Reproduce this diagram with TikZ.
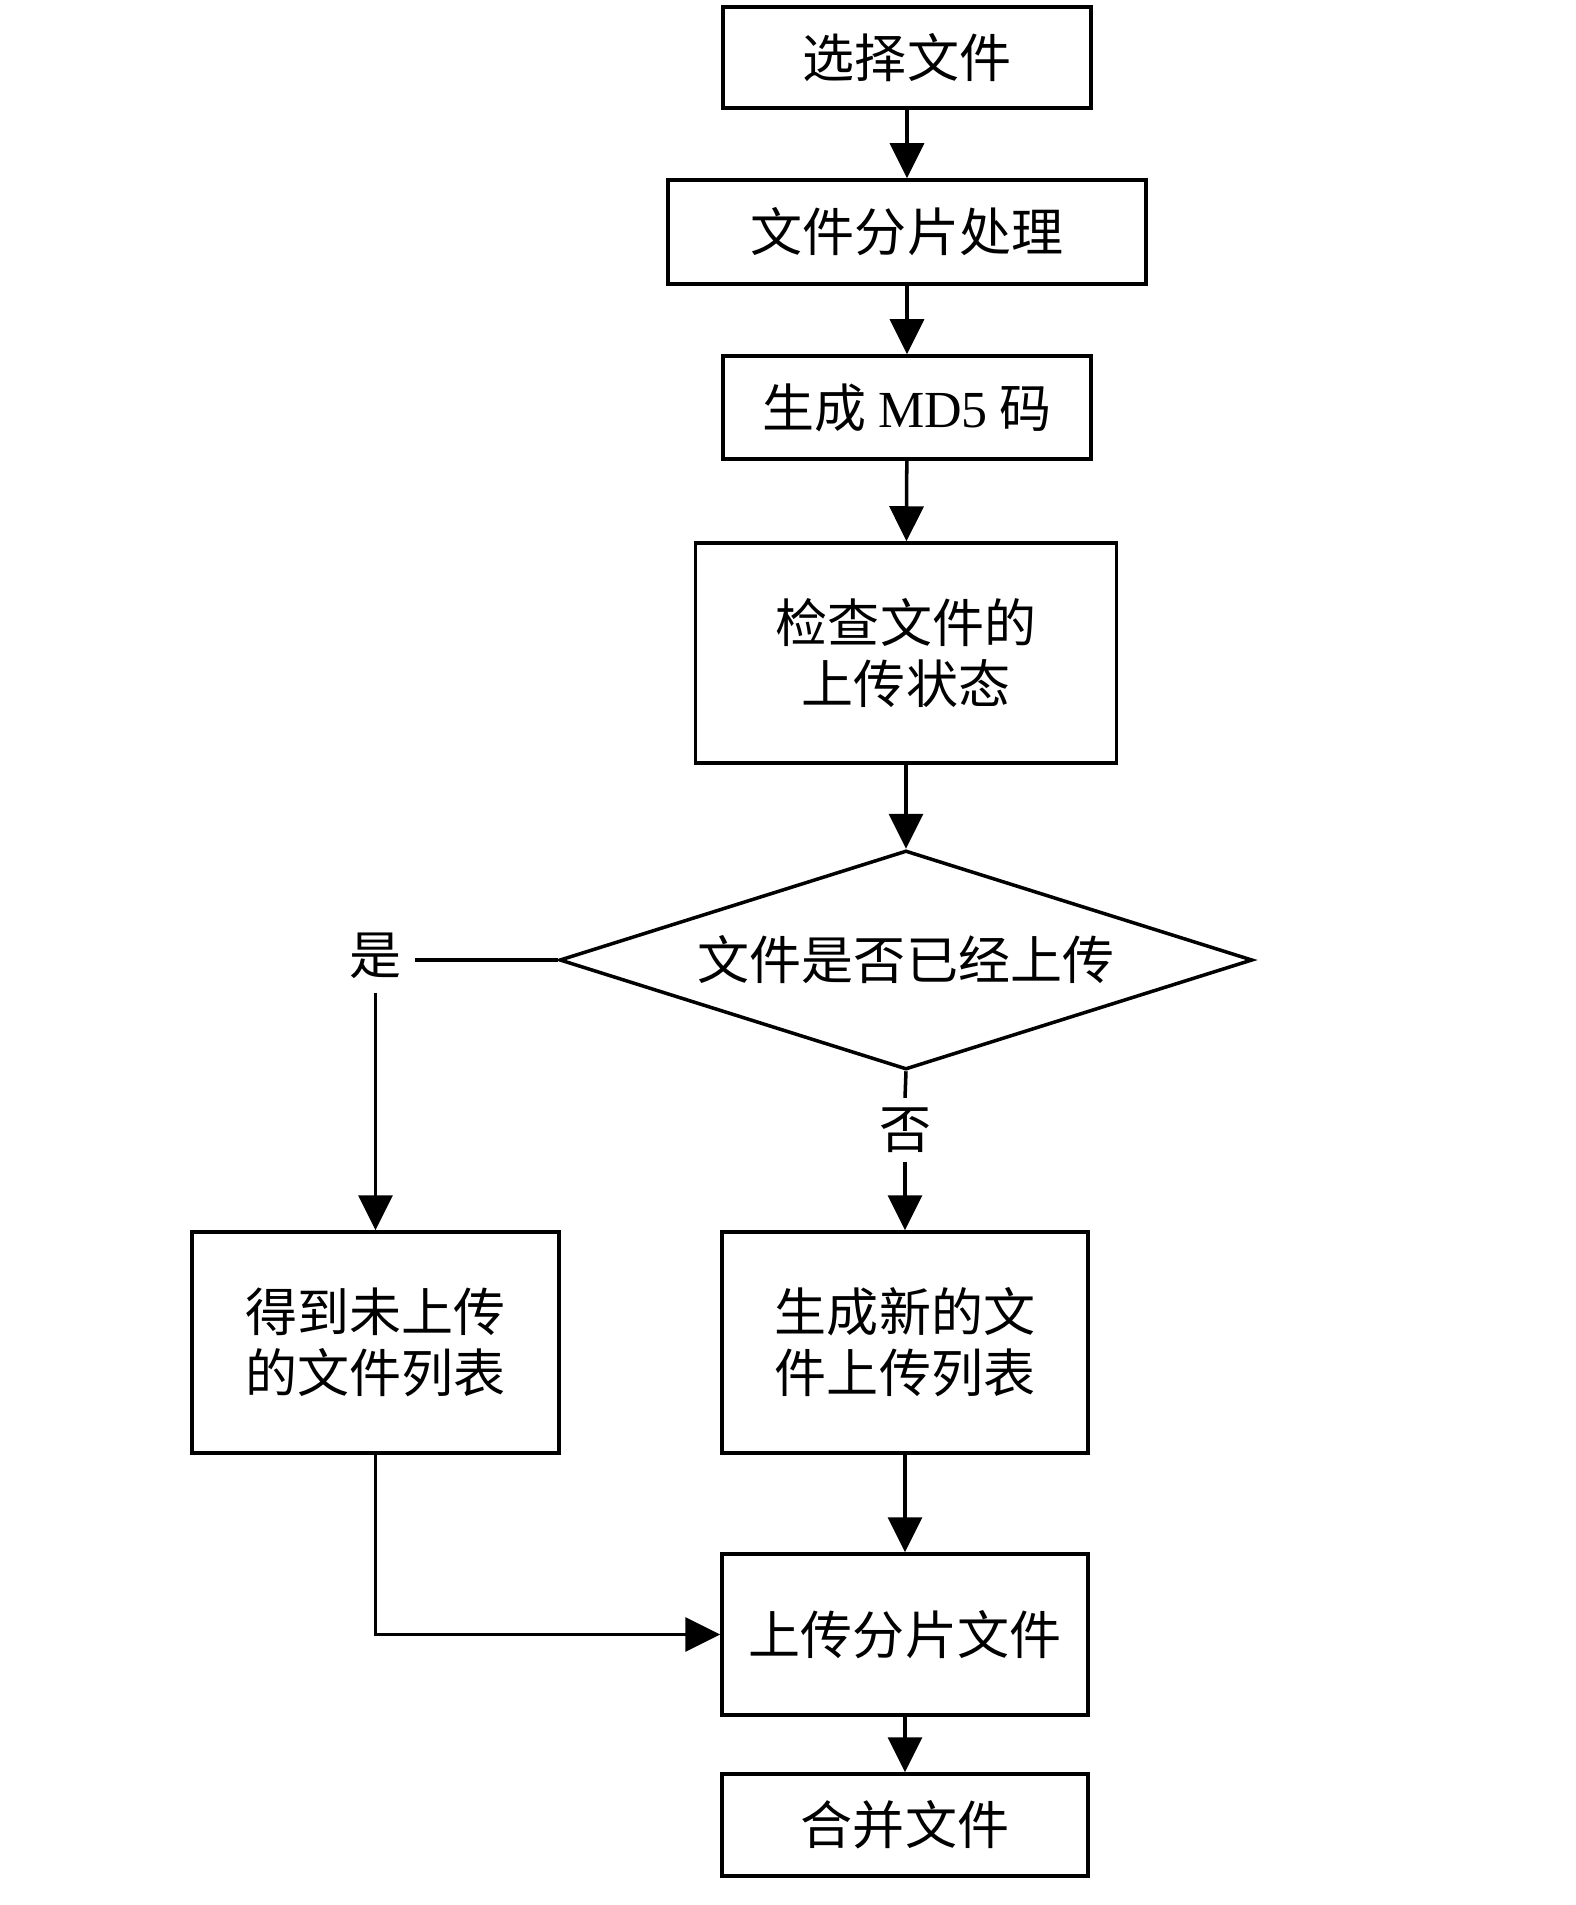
\documentclass[tikz,border=0pt]{standalone}
\usepackage{fontspec}
\setmainfont{Liberation Serif}
\newfontfamily\cjk{Noto Sans CJK SC}
\usetikzlibrary{arrows.meta, shapes.geometric}
\tikzset{>={Triangle[length=3.5mm, width=3.4mm]}}

\begin{document}
\begin{tikzpicture}[line width=1pt,
    blk/.style = {draw, rectangle, align=center, inner sep=0pt,
        font=\cjk\fontsize{14.8pt}{17.3pt}\selectfont},
    decide/.style = {draw, diamond, aspect=3.16, inner sep=0pt,
        minimum width=6.93cm, minimum height=2.19cm,
        font=\cjk\fontsize{14.8pt}{17.3pt}\selectfont},
    lbl/.style = {inner sep=1.2mm, font=\cjk\fontsize{14.8pt}{17.3pt}\selectfont}]
    \useasboundingbox (0,0) rectangle (15.75,-19.05);
    \node[blk, minimum width=3.68cm, minimum height=1.01cm] (sel) at (9.07,-0.575) {选择文件};
    \node[blk, minimum width=4.78cm, minimum height=1.04cm] (split) at (9.07,-2.32) {文件分片处理};
    \node[blk, minimum width=3.68cm, minimum height=1.03cm] (md) at (9.07,-4.075)
        {生成 {\fontspec{Liberation Serif}MD5} 码};
    \node[blk, minimum width=4.21cm, minimum height=2.20cm] (check) at (9.06,-6.53) {检查文件的\\上传状态};
    \node[decide] (ask) at (9.06,-9.60) {文件是否已经上传};
    \node[lbl] (yes) at (3.755,-9.56) {是};
    \node[lbl, inner sep=0.8mm] (no) at (9.05,-11.30) {否};
    \node[blk, minimum width=3.67cm, minimum height=2.21cm] (old) at (3.755,-13.425) {得到未上传\\的文件列表};
    \node[blk, minimum width=3.66cm, minimum height=2.21cm] (new) at (9.05,-13.425) {生成新的文\\件上传列表};
    \node[blk, minimum width=3.66cm, minimum height=1.61cm] (up) at (9.05,-16.345) {上传分片文件};
    \node[blk, minimum width=3.66cm, minimum height=1.02cm] (merge) at (9.05,-18.25) {合并文件};
    % main line
    \draw[->] (sel) -- (split);
    \draw[->] (split) -- (md);
    \draw[->] (md) -- (check);
    \draw[->] (check) -- (ask);
    % branches
    \draw (ask.west) -- (ask.west -| yes.east);
    \draw[->] (yes.south) -- (old.north);
    \draw (ask.south) -- (no.north);
    \draw[->] (no.south) -- (new.north);
    \draw[->] (new) -- (up);
    \draw[->] (old.south) |- (up.west);
    \draw[->] (up) -- (merge);
\end{tikzpicture}
\end{document}
